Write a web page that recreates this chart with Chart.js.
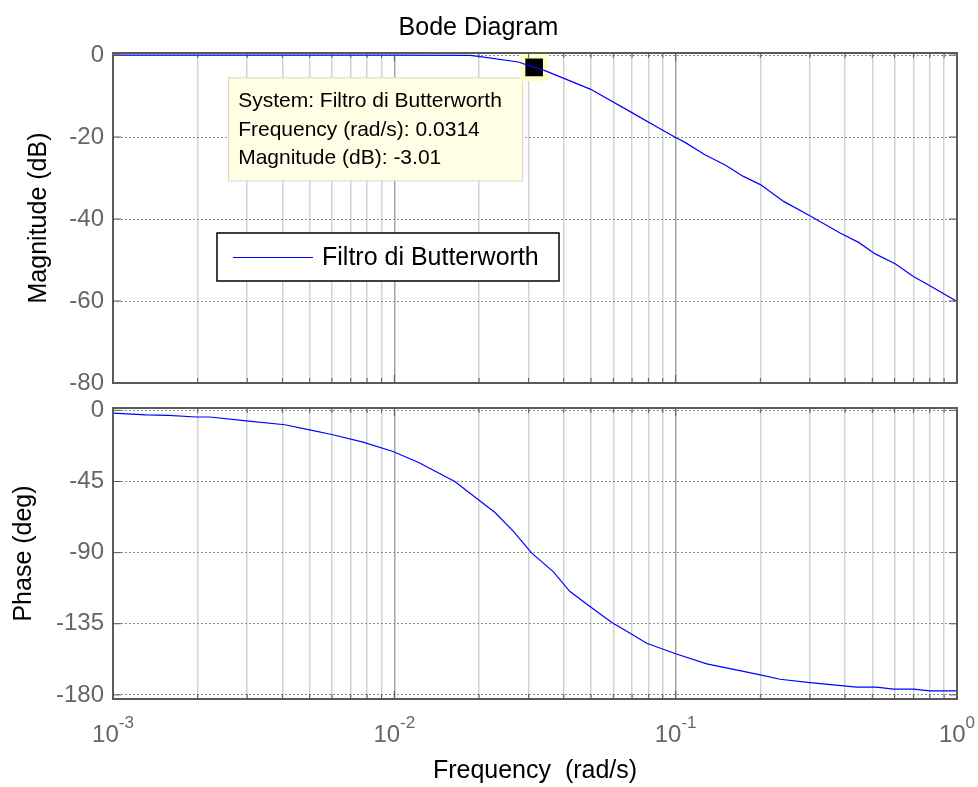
<!DOCTYPE html>
<html>
<head>
<meta charset="utf-8">
<title>Bode Diagram</title>
<script src="https://cdn.jsdelivr.net/npm/chart.js@4.4.1/dist/chart.umd.min.js"></script>
<style>
  body { margin: 0; background: #fff; }
  #wrap { position: relative; width: 978px; height: 787px; overflow: hidden; }
  #wrap canvas { position: absolute; left: 0; }
  #mag-chart { top: 0; }
  #phase-chart { top: 370px; }
</style>
</head>
<body>
<div id="wrap">
  <canvas id="mag-chart" width="978" height="420"></canvas>
  <canvas id="phase-chart" width="978" height="417"></canvas>
</div>
<script>
const FONT = "'Liberation Sans', Arial, sans-serif";

// Risposta in frequenza del filtro (rad/s)
const magFreq = [0.001, 0.01, 0.0186, 0.0202, 0.0276, 0.0314, 0.0343, 0.0497, 0.0689, 0.0893,
                 0.1, 0.108, 0.127, 0.150, 0.174, 0.200, 0.242, 0.300, 0.384, 0.447,
                 0.512, 0.603, 0.700, 0.801, 1.0];
const magDb = [0, 0, -0.1, -0.4, -1.7, -3.01, -3.8, -8.3, -13.8, -18.2,
               -20.1, -21.3, -24.3, -26.8, -29.6, -31.6, -35.7, -39.2, -43.4, -45.7,
               -48.5, -50.9, -54.0, -56.3, -60.1];

const phaseFreq = [0.001, 0.00131, 0.00157, 0.00198, 0.00221, 0.00298, 0.00408, 0.0050, 0.00605, 0.00774,
                   0.00989, 0.0122, 0.0164, 0.0199, 0.0228, 0.0265, 0.0308, 0.0367, 0.0421, 0.0496,
                   0.0593, 0.0689, 0.0789, 0.1, 0.129, 0.2, 0.235, 0.30, 0.44, 0.517,
                   0.594, 0.70, 0.80, 1.0];
const phaseDeg = [-1.7, -2.8, -3.2, -4.2, -4.2, -6.6, -9.1, -12.3, -15.4, -20.1,
                  -26.0, -33.0, -45.0, -56.6, -64.6, -76.6, -90.3, -102.0, -114.6, -124.1,
                  -134.2, -141.0, -147.3, -154.0, -160.4, -167.3, -170.1, -172.2, -175.1, -175.1,
                  -176.4, -176.4, -177.5, -177.5];

// data tip sulla frequenza di taglio
const tipFreq = 0.0314;
const tipMag = -3.01;

// tacche degli assi
const magTicks = [-80, -60, -40, -20, 0];
const phaseTicks = [-180, -135, -90, -45, 0];
const decadeExps = [-3, -2, -1, 0];

const seriesName = 'Filtro di Butterworth';

function toPoints(xs, ys) {
    return xs.map((x, i) => ({ x: x, y: ys[i] }));
}

// griglia logaritmica: 1..9 x 10^e
const freqGrid = [];
decadeExps.forEach(e => {
    if (e === 0) { freqGrid.push(1); return; }
    for (let m = 1; m <= 9; m++) freqGrid.push(m * Math.pow(10, e));
});

function isDecade(v) {
    const l = Math.log10(v);
    return Math.abs(l - Math.round(l)) < 1e-6;
}

function freqAxis(height) {
    return {
        type: 'logarithmic',
        min: 0.001,
        max: 1,
        afterBuildTicks: s => { s.ticks = freqGrid.map(v => ({ value: v })); },
        afterFit: s => { s.height = height; },
        ticks: { display: false },
        border: { display: false },
        grid: {
            drawTicks: false,
            lineWidth: 1.5,
            color: c => (c.tick && isDecade(c.tick.value)) ? '#a4a4a4' : '#d2d2d2'
        }
    };
}

function valueAxis(min, max, ticks, label, labelPad) {
    return {
        min: min,
        max: max,
        afterBuildTicks: s => { s.ticks = ticks.map(v => ({ value: v })); },
        afterFit: s => { s.width = 113; },
        border: { display: false, dash: [2, 2] },
        grid: { drawTicks: false, color: '#8c8c8c', lineWidth: 1 },
        ticks: { color: '#666', padding: 9, font: { family: FONT, size: 24 } },
        title: {
            display: true,
            text: label,
            color: '#000',
            font: { family: FONT, size: 25 },
            padding: { top: labelPad, bottom: 0 }
        }
    };
}

// cornice degli assi con le tacche interne
const axesBox = {
    id: 'axesBox',
    afterDatasetsDraw(chart) {
        const { ctx, chartArea: a, scales } = chart;
        ctx.save();
        ctx.strokeStyle = '#5a5a5a';
        ctx.lineWidth = 1;
        ctx.beginPath();
        scales.x.ticks.forEach(t => {
            const x = scales.x.getPixelForValue(t.value);
            const len = isDecade(t.value) ? 8 : 5;
            ctx.moveTo(x, a.top); ctx.lineTo(x, a.top + len);
            ctx.moveTo(x, a.bottom); ctx.lineTo(x, a.bottom - len);
        });
        scales.y.ticks.forEach(t => {
            const y = scales.y.getPixelForValue(t.value);
            ctx.moveTo(a.left, y); ctx.lineTo(a.left + 8, y);
            ctx.moveTo(a.right, y); ctx.lineTo(a.right - 8, y);
        });
        ctx.stroke();
        ctx.lineWidth = 2;
        ctx.strokeRect(a.left, a.top, a.right - a.left, a.bottom - a.top);
        ctx.restore();
    }
};

// riquadro del data tip, agganciato al marker
const dataTip = {
    id: 'dataTip',
    beforeDatasetsDraw(chart) {
        const { ctx, scales } = chart;
        const mx = scales.x.getPixelForValue(tipFreq);
        const my = scales.y.getPixelForValue(tipMag);
        const w = 294, h = 103;
        const left = mx - 12 - w, top = my + 10;
        ctx.save();
        ctx.fillStyle = '#ffffe6';
        ctx.strokeStyle = '#d6d6cc';
        ctx.lineWidth = 1;
        ctx.fillRect(left, top, w, h);
        ctx.strokeRect(left + 0.5, top + 0.5, w, h);
        ctx.fillStyle = '#000';
        ctx.font = '21px ' + FONT;
        ctx.textBaseline = 'alphabetic';
        const lines = [
            'System: ' + seriesName,
            'Frequency (rad/s): ' + tipFreq,
            'Magnitude (dB): ' + tipMag.toFixed(2)
        ];
        lines.forEach((s, i) => ctx.fillText(s, left + 10, top + 30 + i * 28.5));
        ctx.restore();
    }
};

// legenda dentro il grafico del modulo
const boxLegend = {
    id: 'boxLegend',
    afterDraw(chart) {
        const ctx = chart.ctx;
        const ds = chart.data.datasets[0];
        const x0 = 217, y0 = 233, w = 342, h = 48;
        ctx.save();
        ctx.fillStyle = '#fff';
        ctx.fillRect(x0, y0, w, h);
        ctx.strokeStyle = '#000';
        ctx.lineWidth = 1.5;
        ctx.strokeRect(x0, y0, w, h);
        ctx.strokeStyle = ds.borderColor;
        ctx.lineWidth = 1;
        ctx.beginPath();
        ctx.moveTo(x0 + 16, y0 + 24.5);
        ctx.lineTo(x0 + 96, y0 + 24.5);
        ctx.stroke();
        ctx.fillStyle = '#000';
        ctx.font = '25px ' + FONT;
        ctx.textBaseline = 'middle';
        ctx.fillText(ds.label, x0 + 105, y0 + 25);
        ctx.restore();
    }
};

// etichette 10^n sotto l'asse delle frequenze
const decadeLabels = {
    id: 'decadeLabels',
    afterDraw(chart) {
        const { ctx, scales: { x } } = chart;
        const base = x.top + 43;
        ctx.save();
        ctx.fillStyle = '#666';
        ctx.textBaseline = 'alphabetic';
        decadeExps.forEach(e => {
            const px = x.getPixelForValue(Math.pow(10, e));
            const sup = String(e);
            ctx.font = '24px ' + FONT;
            const w1 = ctx.measureText('10').width;
            ctx.font = '17px ' + FONT;
            const w2 = ctx.measureText(sup).width;
            const left = px - (w1 + w2) / 2;
            ctx.font = '24px ' + FONT;
            ctx.fillText('10', left, base);
            ctx.font = '17px ' + FONT;
            ctx.fillText(sup, left + w1, base - 14);
        });
        ctx.restore();
    }
};

// Grafico del modulo
const magCanvas = document.getElementById('mag-chart');
if (magCanvas) {
    new Chart(magCanvas.getContext('2d'), {
        type: 'line',
        data: {
            datasets: [{
                label: seriesName,
                data: toPoints(magFreq, magDb),
                borderColor: '#0000ff',
                borderWidth: 1.2,
                pointRadius: 0,
                tension: 0
            }, {
                label: 'data tip',
                data: [{ x: tipFreq, y: tipMag }],
                showLine: false,
                pointStyle: 'rect',
                pointRadius: 16,
                pointBorderWidth: 5,
                pointBorderColor: '#ffffc8',
                pointBackgroundColor: '#000'
            }]
        },
        options: {
            responsive: false,
            animation: false,
            layout: { padding: { left: 0, right: 21, top: 0, bottom: 37 } },
            scales: {
                x: freqAxis(0),
                y: valueAxis(-80, 0.5, magTicks, 'Magnitude (dB)', 24)
            },
            plugins: {
                legend: { display: false },
                tooltip: { enabled: false },
                title: {
                    display: true,
                    text: 'Bode Diagram',
                    color: '#000',
                    font: { family: FONT, size: 25, weight: 'normal' },
                    padding: { top: 13, bottom: 10 }
                }
            }
        },
        plugins: [dataTip, axesBox, boxLegend]
    });
}

// Grafico della fase
const phaseCanvas = document.getElementById('phase-chart');
if (phaseCanvas) {
    const xAxis = freqAxis(88);
    xAxis.title = {
        display: true,
        text: 'Frequency  (rad/s)',
        color: '#000',
        font: { family: FONT, size: 25 },
        padding: { top: 0, bottom: 1 }
    };
    new Chart(phaseCanvas.getContext('2d'), {
        type: 'line',
        data: {
            datasets: [{
                label: seriesName,
                data: toPoints(phaseFreq, phaseDeg),
                borderColor: '#0000ff',
                borderWidth: 1.2,
                pointRadius: 0,
                tension: 0
            }]
        },
        options: {
            responsive: false,
            animation: false,
            layout: { padding: { left: 0, right: 21, top: 38, bottom: 0 } },
            scales: {
                x: xAxis,
                y: valueAxis(-182.6, 1.5, phaseTicks, 'Phase (deg)', 9)
            },
            plugins: {
                legend: { display: false },
                tooltip: { enabled: false }
            }
        },
        plugins: [axesBox, decadeLabels]
    });
}
</script>
</body>
</html>
